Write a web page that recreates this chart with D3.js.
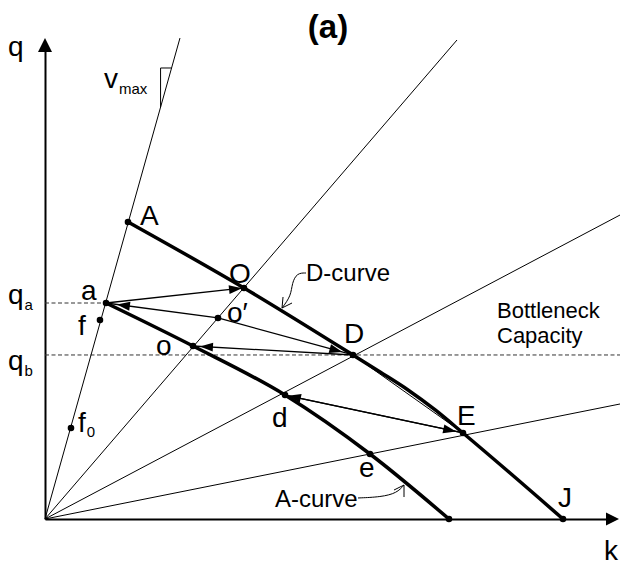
<!DOCTYPE html>
<html>
<head>
<meta charset="utf-8">
<script src="https://cdn.jsdelivr.net/npm/d3@7"></script>
<style>
body { margin: 0; background: #fff; }
text { font-family: "Liberation Sans", Arial, sans-serif; fill: #000; }
</style>
</head>
<body>
<div id="chart"></div>
<script>
// all values in (k, q) units, both axes 0..100
const pointNames = ["A", "O", "D", "E", "J", "a", "o", "d", "e", "end", "o'", "f", "f0"];
const pointK = [14.69, 35.22, 54.51, 73.98, 91.68, 10.80, 26.19, 42.48, 57.52, 71.50, 30.62, 9.73, 4.60];
const pointQ = [61.88, 48.13, 34.17, 17.92, 0, 45.0, 36.04, 25.83, 13.54, 0, 41.88, 41.46, 18.96];

// D-curve and A-curve
const dCurveK = [14.69, 35.22, 54.51, 59.38, 64.25, 69.12, 73.98, 91.68];
const dCurveQ = [61.88, 48.13, 34.17, 30.57, 26.88, 22.67, 17.92, 0];
const aCurveK = [10.80, 26.19, 42.48, 57.52, 71.50];
const aCurveQ = [45.0, 36.04, 25.83, 13.54, 0];

// rays from the origin (end points): vmax, through O, through D, through E
const rayK = [23.89, 72.92, 101.77, 101.77];
const rayQ = [100.2, 99.79, 63.33, 23.96];

// flow levels
const qa = 45.0, qb = 34.17, qbEndK = 101.77;

// arrows between points, and the plain chord D-E
const arrowFrom = ["a", "o'", "o'", "D", "d", "E"];
const arrowTo = ["O", "a", "D", "o", "E", "d"];
const chord = ["D", "E"];

// callout leaders
const dLeaderK = [46.19, 44.60, 43.72, 43.54, 41.95];
const dLeaderQ = [51.25, 51.25, 49.17, 46.46, 43.96];
const aLeaderK = [55.40, 59.47, 62.30, 63.54];
const aLeaderQ = [4.38, 4.58, 5.42, 7.08];

// ---- styling / placement ----
const labelOffset = { A: [12, 3], O: [-15, -5], D: [-9, -12], E: [-6, -8], J: [-5, -12], a: [-25, -3],
    f: [-22, 15], o: [-37, 9], "o'": [9, 4], d: [-13, 32], e: [-11, 23], f0: [7, 4] };
const headGap = { O: 2, a: 11, D: 11, o: 7, d: 3, E: 7 };

var width = 623, height = 566;
var svg = d3.select("#chart").append("svg")
    .attr("width", width)
    .attr("height", height);

var x = d3.scaleLinear().domain([0, 100]).range([45, 610]);
var y = d3.scaleLinear().domain([0, 100]).range([519, 39]);

const pts = {};
pointNames.forEach((n, i) => pts[n] = [x(pointK[i]), y(pointQ[i])]);

// axes without ticks
var xAxis = svg.append("g").attr("transform", "translate(0," + y(0) + ")")
    .call(d3.axisBottom(x).ticks(0).tickSizeOuter(0));
var yAxis = svg.append("g").attr("transform", "translate(" + x(0) + ",0)")
    .call(d3.axisLeft(y.copy().range([519, 50])).ticks(0).tickSizeOuter(0));
[xAxis, yAxis].forEach(a => a.select(".domain").attr("stroke", "#000").attr("stroke-width", 2));

// axis arrowheads
svg.append("path")
    .attr("d", d3.line()([[x(100) + 9, y(0)], [x(100) - 4, y(0) - 6.5], [x(100) - 4, y(0) + 6.5]]))
    .attr("fill", "#000");
svg.append("path")
    .attr("d", d3.line()([[x(0), y(100) - 1], [x(0) - 7, y(100) + 13], [x(0) + 7, y(100) + 13]]))
    .attr("fill", "#000");

// dashed flow levels
svg.append("line")
    .attr("x1", x(0)).attr("x2", x(pointK[pointNames.indexOf("a")]))
    .attr("y1", y(qa)).attr("y2", y(qa))
    .attr("stroke", "#333").attr("stroke-width", 1).attr("stroke-dasharray", "4,2.5");
svg.append("line")
    .attr("x1", x(0)).attr("x2", x(qbEndK))
    .attr("y1", y(qb)).attr("y2", y(qb))
    .attr("stroke", "#333").attr("stroke-width", 1).attr("stroke-dasharray", "4,2.5");

// rays
rayK.forEach((k, i) => {
    svg.append("line")
        .attr("x1", x(0)).attr("y1", y(0))
        .attr("x2", x(k)).attr("y2", y(rayQ[i]))
        .attr("stroke", "#000").attr("stroke-width", 1);
});

// vmax slope triangle
var vmaxSlope = rayQ[0] / rayK[0];
var triQ = 93.96, triK = triQ / vmaxSlope;
svg.append("path")
    .attr("d", d3.line()([[x(triK), y(triQ)], [x(triK) - 11, y(triQ)], [x(triK) - 11, y(triQ) + 39]]))
    .attr("fill", "none").attr("stroke", "#000").attr("stroke-width", 1);

// curves
var curveLine = d3.line().x(d => x(d[0])).y(d => y(d[1])).curve(d3.curveMonotoneX);
svg.append("path")
    .datum(dCurveK.map((k, i) => [k, dCurveQ[i]]))
    .attr("d", curveLine)
    .attr("fill", "none").attr("stroke", "#000").attr("stroke-width", 3.5);
svg.append("path")
    .datum(aCurveK.map((k, i) => [k, aCurveQ[i]]))
    .attr("d", curveLine)
    .attr("fill", "none").attr("stroke", "#000").attr("stroke-width", 3.5);

// chord D-E
svg.append("line")
    .attr("x1", pts[chord[0]][0]).attr("y1", pts[chord[0]][1])
    .attr("x2", pts[chord[1]][0]).attr("y2", pts[chord[1]][1])
    .attr("stroke", "#000").attr("stroke-width", 1);

// arrows
function drawArrow(p1, p2, gap) {
    svg.append("line")
        .attr("x1", p1[0]).attr("y1", p1[1])
        .attr("x2", p2[0]).attr("y2", p2[1])
        .attr("stroke", "#000").attr("stroke-width", 1.3);
    var dx = p2[0] - p1[0], dy = p2[1] - p1[1], L = Math.hypot(dx, dy);
    var ux = dx / L, uy = dy / L;
    var tx = p2[0] - ux * gap, ty = p2[1] - uy * gap;
    var bx = tx - ux * 13, by = ty - uy * 13;
    svg.append("path")
        .attr("d", d3.line()([[tx, ty], [bx - uy * 4.5, by + ux * 4.5], [bx + uy * 4.5, by - ux * 4.5]]))
        .attr("fill", "#000");
}
arrowFrom.forEach((f, i) => drawArrow(pts[f], pts[arrowTo[i]], headGap[arrowTo[i]]));

// dots
pointNames.forEach(n => {
    svg.append("circle")
        .attr("cx", pts[n][0]).attr("cy", pts[n][1])
        .attr("r", 3.3).attr("fill", "#000");
});

// callout leaders
var leader = d3.line().x(d => x(d[0])).y(d => y(d[1])).curve(d3.curveBasis);
svg.append("path")
    .datum(dLeaderK.map((k, i) => [k, dLeaderQ[i]]))
    .attr("d", leader).attr("fill", "none").attr("stroke", "#000").attr("stroke-width", 1);
var dTip = [x(dLeaderK[4]), y(dLeaderQ[4])];
svg.append("path")
    .attr("d", "M" + (dTip[0] + 1) + "," + (dTip[1] - 11) + "L" + dTip[0] + "," + dTip[1] + "L" + (dTip[0] + 10) + "," + (dTip[1] - 5))
    .attr("fill", "none").attr("stroke", "#000").attr("stroke-width", 1);
svg.append("path")
    .datum(aLeaderK.map((k, i) => [k, aLeaderQ[i]]))
    .attr("d", leader).attr("fill", "none").attr("stroke", "#000").attr("stroke-width", 1);
var aTip = [x(aLeaderK[3]), y(aLeaderQ[3])];
svg.append("path")
    .attr("d", "M" + aTip[0] + "," + (aTip[1] + 12) + "L" + aTip[0] + "," + aTip[1] + "L" + (aTip[0] - 10) + "," + (aTip[1] + 5))
    .attr("fill", "none").attr("stroke", "#000").attr("stroke-width", 1);

// point labels
pointNames.forEach(n => {
    if (!labelOffset[n]) return;
    var t = svg.append("text")
        .attr("x", pts[n][0] + labelOffset[n][0])
        .attr("y", pts[n][1] + labelOffset[n][1])
        .style("font-size", "28px");
    if (n === "f0") {
        t.append("tspan").text("f");
        t.append("tspan").attr("dx", 1).attr("dy", 5).style("font-size", "15px").text("0");
    } else if (n === "o'") {
        t.text("o\u2032");
    } else {
        t.text(n);
    }
});

// axis labels and titles
svg.append("text").attr("x", 328).attr("y", 38).attr("text-anchor", "middle")
    .style("font-size", "33px").style("font-weight", "bold").text("(a)");
svg.append("text").attr("x", 8).attr("y", 56).style("font-size", "28px").text("q");
svg.append("text").attr("x", 604).attr("y", 560).style("font-size", "28px").text("k");

function subLabel(px, py, main, sub) {
    var t = svg.append("text").attr("x", px).attr("y", py).style("font-size", "28px");
    t.append("tspan").text(main);
    t.append("tspan").attr("dx", 1).attr("dy", 6).style("font-size", "15px").text(sub);
}
subLabel(8, y(qa) + 1, "q", "a");
subLabel(8, y(qb) + 15, "q", "b");
subLabel(104, 88, "v", "max");

svg.append("text").attr("x", 306).attr("y", 281).style("font-size", "24px").text("D-curve");
svg.append("text").attr("x", 275).attr("y", 507).style("font-size", "24px").text("A-curve");
svg.append("text").attr("x", 497).attr("y", 318).style("font-size", "22px").text("Bottleneck");
svg.append("text").attr("x", 497).attr("y", 343).style("font-size", "22px").text("Capacity");
</script>
</body>
</html>
